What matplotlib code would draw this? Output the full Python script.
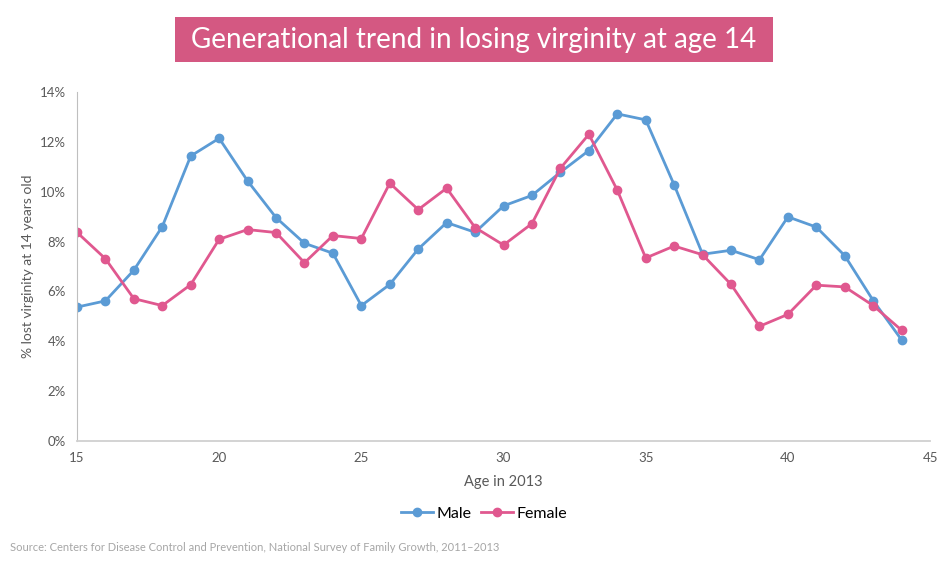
import matplotlib.pyplot as plt
from matplotlib.patches import Rectangle
from matplotlib.ticker import FuncFormatter

# values (percent)
ages = list(range(15, 45))
male = [5.37, 5.62, 6.85, 8.60, 11.43, 12.14, 10.43, 8.96, 7.93, 7.53,
        5.43, 6.28, 7.70, 8.76, 8.37, 9.43, 9.85, 10.78, 11.65, 13.12,
        12.88, 10.27, 7.49, 7.65, 7.27, 8.99, 8.58, 7.43, 5.63, 4.05]
female = [8.37, 7.31, 5.71, 5.43, 6.27, 8.09, 8.48, 8.36, 7.15, 8.24,
          8.12, 10.34, 9.28, 10.14, 8.56, 7.86, 8.72, 10.94, 12.30, 10.06,
          7.34, 7.82, 7.47, 6.28, 4.60, 5.08, 6.25, 6.18, 5.43, 4.44]

blue = "#5B9BD5"
pink = "#E0588F"
grey = "#595959"

plt.rcParams['font.family'] = ['Lato', 'DejaVu Sans']

fig = plt.figure(figsize=(9.49, 5.63), dpi=100)
ax = fig.add_axes([0.0811, 0.2167, 0.899, 0.62])

ax.plot(ages, male, color=blue, lw=2, marker='o', ms=6, label="Male")
ax.plot(ages, female, color=pink, lw=2, marker='o', ms=6, label="Female")

ax.set_xlim(15, 45)
ax.set_ylim(0, 14)
ax.set_xticks(range(15, 46, 5))
ax.set_yticks(range(0, 15, 2))
ax.yaxis.set_major_formatter(FuncFormatter(lambda v, p: "%d%%" % v))
ax.tick_params(length=0, labelsize=9.5, colors=grey, pad=8)

for s in ["top", "right"]:
    ax.spines[s].set_visible(False)
ax.spines["left"].set_color("#BFBFBF")
ax.spines["bottom"].set_color("#D0D0D0")
ax.spines["bottom"].set_linewidth(1.3)

ax.set_xlabel("Age in 2013", fontsize=10.5, color=grey, labelpad=8)
ax.set_ylabel("% lost virginity at 14 years old", fontsize=10, color=grey, labelpad=4)

fig.legend(loc="center", bbox_to_anchor=(0.51, 0.088), ncol=2, frameon=False,
           fontsize=11.5, handlelength=2, handletextpad=0.2, columnspacing=0.6)

# title banner
fig.patches.append(Rectangle((175 / 949, 1 - 62 / 563), 598 / 949, 45 / 563,
                             transform=fig.transFigure, fc="#D45882", ec="none"))
fig.text(474 / 949, 1 - 40 / 563, "Generational trend in losing virginity at age 14",
         ha="center", va="center", fontsize=20, color="white")

fig.text(0.011, 0.022, "Source: Centers for Disease Control and Prevention, National Survey of Family Growth, 2011\u20132013",
         fontsize=8, color="#A6A6A6")

fig.savefig("out.png", dpi=100)
